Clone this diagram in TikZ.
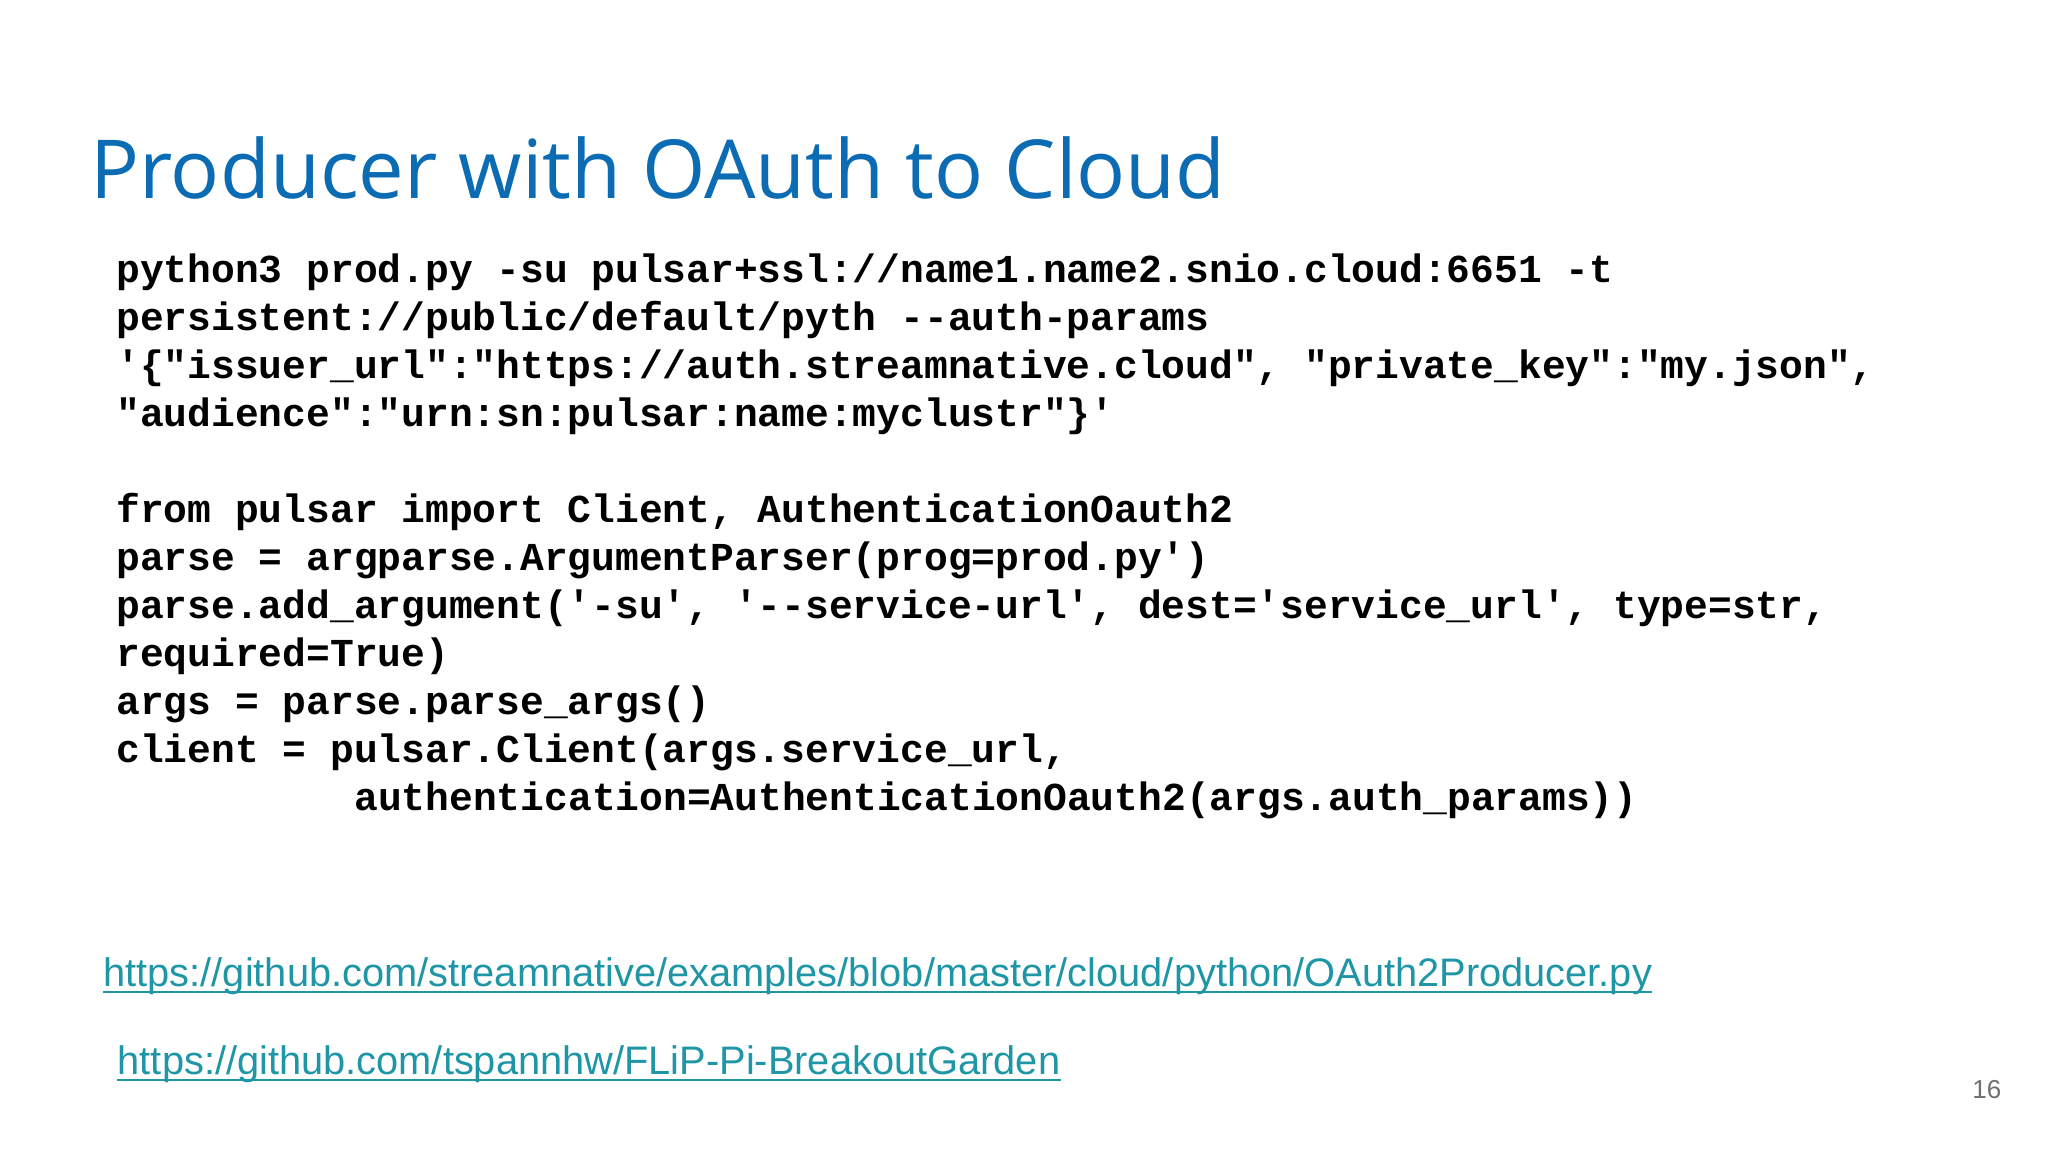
\documentclass[tikz,border=0pt]{standalone}
\usepackage{fontspec}
\setmainfont{Open Sans}
\newfontfamily\codefont{Liberation Mono}
\newfontfamily\linkfont{Liberation Sans}
\definecolor{titleblue}{HTML}{0B6BB3}
\definecolor{linkteal}{HTML}{1E96A6}
\definecolor{pgray}{HTML}{707070}
\begin{document}
\begin{tikzpicture}[x=1pt,y=1pt,
  codeline/.style={anchor=base west,inner sep=0pt,font=\codefont\bfseries\fontsize{19.8}{24}\selectfont},
  linkline/.style={anchor=base west,inner sep=0pt,text=linkteal,font=\linkfont\fontsize{19.9}{24}\selectfont}]
\useasboundingbox[fill=white] (0,0) rectangle (1024,-576);
\node[anchor=base west,inner sep=0pt,text=titleblue,font=\fontsize{40.7}{50}\selectfont] (title) at (45,-99) {Producer with OAuth to Cloud};
\node[codeline] (c1) at (58,-141) {python3 prod.py -su pulsar+ssl://name1.name2.snio.cloud:6651 -t};
\node[codeline] (c2) at (58,-165) {persistent://public/default/pyth --auth-params};
\node[codeline] (c3) at (58,-189) {'\{"issuer\_url":"https://auth.streamnative.cloud", "private\_key":"my.json",};
\node[codeline] (c4) at (58,-213) {"audience":"urn:sn:pulsar:name:myclustr"\}'};
\node[codeline] (c5) at (58,-261) {from pulsar import Client, AuthenticationOauth2};
\node[codeline] (c6) at (58,-285) {parse = argparse.ArgumentParser(prog=prod.py')};
\node[codeline] (c7) at (58,-309) {parse.add\_argument('-su', '--service-url', dest='service\_url', type=str,};
\node[codeline] (c8) at (58,-333) {required=True)};
\node[codeline] (c9) at (58,-357) {args = parse.parse\_args()};
\node[codeline] (c10) at (58,-381) {client = pulsar.Client(args.service\_url,};
\node[codeline] (c11) at (58,-405) {\hspace*{119pt}authentication=AuthenticationOauth2(args.auth\_params))};
\node[linkline] (l1) at (51.5,-493) {https://github.com/streamnative/examples/blob/master/cloud/python/OAuth2Producer.py};
\draw[linkteal,line width=1.1pt] ([yshift=-3pt]l1.base west) -- ([yshift=-3pt]l1.base east);
\node[linkline] (l2) at (58.7,-537) {https://github.com/tspannhw/FLiP-Pi-BreakoutGarden};
\draw[linkteal,line width=1.1pt] ([yshift=-3pt]l2.base west) -- ([yshift=-3pt]l2.base east);
\node[anchor=base west,inner sep=0pt,text=pgray,font=\linkfont\fontsize{13}{15}\selectfont] (pg) at (986,-549) {16};
\end{tikzpicture}
\end{document}
